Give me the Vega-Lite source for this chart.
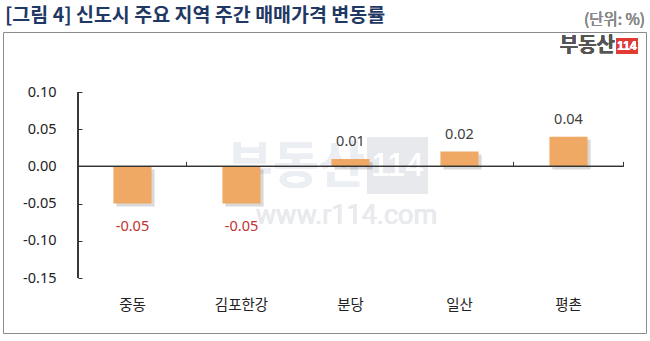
{
  "$schema": "https://vega.github.io/schema/vega-lite/v6.json",
  "width": 643,
  "height": 301,
  "autosize": {"type": "none"},
  "padding": {"left": 3, "top": 32, "right": 4, "bottom": 8},
  "background": "white",
  "config": {
    "view": {"stroke": "#8c8c8c", "strokeWidth": 1},
    "font": "Noto Sans CJK KR",
    "locale": {"number": {"decimal": ".", "thousands": ",", "grouping": [3], "currency": ["$", ""], "minus": "-"}}
  },
  "title": {
    "text": "[그림 4] 신도시 주요 지역 주간 매매가격 변동률",
    "anchor": "start",
    "frame": "group",
    "font": "Noto Sans CJK KR",
    "fontSize": 19.5,
    "fontWeight": "bold",
    "color": "#1F3864",
    "baseline": "bottom",
    "offset": -33,
    "dx": 2
  },
  "data": {
    "values": [
      {"region": "중동", "value": -0.05},
      {"region": "김포한강", "value": -0.05},
      {"region": "분당", "value": 0.01},
      {"region": "일산", "value": 0.02},
      {"region": "평촌", "value": 0.04}
    ]
  },
  "layer": [
    {
      "mark": {"type": "text", "text": "부동산", "fontSize": 50, "fontWeight": "bold", "color": "#EBEEF2", "align": "center", "baseline": "middle", "dy": 2},
      "encoding": {
        "x": {"datum": "분당", "type": "nominal", "bandPosition": 0, "axis": null},
        "y": {"datum": 0, "type": "quantitative", "axis": null}
      }
    },
    {
      "mark": {"type": "point", "shape": "M-1,-0.918L1,-0.918L1,0.918L-1,0.918Z", "size": 3721, "filled": true, "color": "#E8E9ED", "opacity": 1, "yOffset": -1},
      "encoding": {
        "x": {"datum": "분당", "type": "nominal", "bandPosition": 0.931, "axis": null},
        "y": {"datum": 0, "type": "quantitative", "axis": null}
      }
    },
    {
      "mark": {"type": "text", "text": "114", "font": "Liberation Sans", "fontSize": 33, "color": "white", "align": "center", "baseline": "middle", "dy": 0},
      "encoding": {
        "x": {"datum": "분당", "type": "nominal", "bandPosition": 0.931, "axis": null},
        "y": {"datum": 0, "type": "quantitative", "axis": null}
      }
    },
    {
      "mark": {"type": "text", "text": "www.r114.com", "font": "Roboto", "fontSize": 27, "color": "#E8EAEE", "align": "center", "baseline": "middle", "dx": -4},
      "encoding": {
        "x": {"datum": "분당", "type": "nominal", "bandPosition": 0.5, "axis": null},
        "y": {"datum": -0.0667, "type": "quantitative", "axis": null}
      }
    },
    {
      "mark": {"type": "bar", "color": "#000000", "opacity": 0.15, "xOffset": 3, "yOffset": 3, "width": {"band": 0.35}},
      "encoding": {
        "x": {"field": "region", "type": "nominal", "axis": null},
        "y": {"field": "value", "type": "quantitative", "axis": null}
      }
    },
    {
      "mark": {"type": "bar", "color": "#F0A964", "width": {"band": 0.35}},
      "encoding": {
        "x": {
          "field": "region",
          "type": "nominal",
          "sort": null,
          "scale": {"type": "band", "domain": ["중동", "김포한강", "분당", "일산", "평촌"], "paddingInner": 0, "paddingOuter": 0.4495, "align": 0.7653, "round": false},
          "axis": {"orient": "bottom", "offset": -30, "domain": false, "ticks": false, "labelPadding": 2, "labelBaseline": "middle", "labelAngle": 0, "labelFont": "Noto Sans CJK KR", "labelFontSize": 14.5, "labelColor": "#222222", "title": null, "grid": false}
        },
        "y": {
          "field": "value",
          "type": "quantitative",
          "scale": {"domain": [-0.22392, 0.18065], "nice": false, "zero": false},
          "axis": {"orient": "left", "offset": -75, "values": [0.1, 0.05, 0, -0.05, -0.1, -0.15], "format": ".2f", "domain": false, "ticks": true, "tickSize": -4, "tickColor": "#333333", "labelFont": "Noto Sans", "labelFontSize": 14.5, "labelColor": "#222222", "labelPadding": 26, "grid": false, "title": null}
        }
      }
    },
    {
      "mark": {"type": "rule", "color": "#333333", "strokeWidth": 1},
      "encoding": {
        "x": {"datum": "중동", "type": "nominal", "bandPosition": 0, "axis": null},
        "y": {"datum": 0.1, "type": "quantitative", "axis": null},
        "y2": {"datum": -0.15}
      }
    },
    {
      "mark": {"type": "rule", "color": "#333333", "strokeWidth": 1},
      "encoding": {
        "x": {"datum": "중동", "type": "nominal", "bandPosition": 0, "axis": {"orient": "bottom", "offset": -166.6, "domain": false, "labels": false, "ticks": true, "tickSize": -5, "tickColor": "#333333", "bandPosition": 1, "title": null, "grid": false}},
        "x2": {"datum": "평촌", "bandPosition": 1},
        "y": {"datum": 0, "type": "quantitative", "axis": null}
      }
    },
    {
      "transform": [{"filter": "datum.value > 0"}],
      "mark": {"type": "text", "font": "Noto Sans", "fontSize": 14.5, "color": "#404040", "baseline": "middle", "align": "center", "dy": -17},
      "encoding": {
        "x": {"field": "region", "type": "nominal", "axis": null},
        "y": {"field": "value", "type": "quantitative", "axis": null},
        "text": {"field": "value", "type": "quantitative", "format": ".2f"}
      }
    },
    {
      "transform": [{"filter": "datum.value < 0"}],
      "mark": {"type": "text", "font": "Noto Sans", "fontSize": 14.5, "color": "#C0312F", "baseline": "middle", "align": "center", "dy": 23},
      "encoding": {
        "x": {"field": "region", "type": "nominal", "axis": null},
        "y": {"field": "value", "type": "quantitative", "axis": null},
        "text": {"field": "value", "type": "quantitative", "format": ".2f"}
      }
    },
    {
      "mark": {"type": "text", "text": "부동산", "fontSize": 20, "fontWeight": "bold", "color": "#555555", "align": "right", "baseline": "middle", "dx": -8},
      "encoding": {
        "x": {"datum": "평촌", "type": "nominal", "bandPosition": 1, "axis": null},
        "y": {"datum": 0.1618, "type": "quantitative", "axis": null}
      }
    },
    {
      "mark": {"type": "point", "shape": "M-1,-0.76L1,-0.76L1,0.76L-1,0.76Z", "size": 441, "filled": true, "color": "#E03C31", "opacity": 1, "xOffset": 4},
      "encoding": {
        "x": {"datum": "평촌", "type": "nominal", "bandPosition": 1, "axis": null},
        "y": {"datum": 0.1618, "type": "quantitative", "axis": null}
      }
    },
    {
      "mark": {"type": "text", "text": "114", "font": "Liberation Sans", "fontSize": 12, "fontWeight": "bold", "color": "white", "align": "center", "baseline": "middle", "dx": 4},
      "encoding": {
        "x": {"datum": "평촌", "type": "nominal", "bandPosition": 1, "axis": null},
        "y": {"datum": 0.1618, "type": "quantitative", "axis": null}
      }
    },
    {
      "mark": {"type": "text", "text": "(단위: %)", "fontSize": 15.5, "fontWeight": "normal", "color": "#8a8a8a", "align": "right", "baseline": "middle", "dx": 22},
      "encoding": {
        "x": {"datum": "평촌", "type": "nominal", "bandPosition": 1, "axis": null},
        "y": {"datum": 0.1968, "type": "quantitative", "axis": null}
      }
    }
  ],
  "resolve": {"axis": {"x": "independent", "y": "independent"}}
}
